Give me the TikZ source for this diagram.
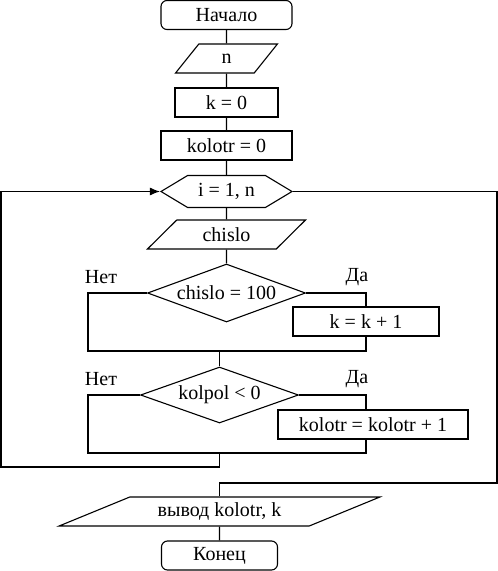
\documentclass[tikz,border=0pt]{standalone}
\usepackage{fontspec}
\setmainfont{Liberation Serif}
\usetikzlibrary{shapes.geometric,shapes.symbols,arrows.meta}

\begin{document}
\begin{tikzpicture}[>={Latex[length=10pt,width=8pt]},x=1pt,y=-1pt,line width=1.1pt,
    font=\fontsize{20}{24}\selectfont,
    term/.style={draw,rounded corners=6pt,minimum height=29pt,inner sep=0pt},
    proc/.style={draw,minimum height=29pt,inner sep=0pt},
    io/.style={draw,trapezium,trapezium stretches=true,minimum height=29pt,inner sep=0pt},
    cond/.style={draw,diamond,aspect=2.8,inner sep=0pt},
    loophex/.style={draw,signal,signal to=west and east,signal pointer angle=62,
      minimum height=32pt,inner sep=0pt}]
    \useasboundingbox (0,0) rectangle (498,571);
    % blocks
    \node[term,minimum width=131pt] (start) at (226.5,15) {Начало};
    \node[io,trapezium left angle=66,trapezium right angle=114,minimum width=102pt] (inn) at (226.5,58.5) {n};
    \node[proc,minimum width=103pt] (k0) at (226.5,102.5) {k = 0};
    \node[proc,minimum width=131pt] (kol0) at (226.5,145.5) {kolotr = 0};
    \node[loophex,minimum width=131pt] (loop) at (226.5,191.5) {i = 1, n};
    \node[io,trapezium left angle=45,trapezium right angle=135,minimum width=159pt] (inchis) at (226.5,234.5) {chislo};
    \node[cond,minimum width=158pt,minimum height=58pt] (if1) at (226.5,293) {chislo = 100};
    \node[proc,minimum width=146pt] (k1) at (366,321.5) {k = k + 1};
    \node[cond,minimum width=158pt,minimum height=56pt] (if2) at (219.5,395) {kolpol < 0};
    \node[proc,minimum width=190pt] (kol1) at (373,424.5) {kolotr = kolotr + 1};
    \node[io,trapezium left angle=20,trapezium right angle=160,minimum width=321pt] (out) at (219.5,511.5) {вывод kolotr, k};
    \node[term,minimum width=116pt] (stop) at (219.5,555.5) {Конец};
    % labels
    \node (no1) at (101,277) {Нет};
    \node (yes1) at (357,277) {Да};
    \node (no2) at (101,379) {Нет};
    \node (yes2) at (357,379) {Да};
    % turning points
    \coordinate (l1) at (88,351);
    \coordinate (j1) at (219.5,351);
    \coordinate (l2) at (88,453);
    \coordinate (j2) at (219.5,453);
    \coordinate (r2) at (366,453);
    \coordinate (back) at (1,467);
    \coordinate (exit) at (497,483);
    % connectors
    \draw (start) -- (inn) -- (k0) -- (kol0) -- (loop) -- (inchis) -- (if1);
    \draw (if1.west) -| (l1) -| (k1.south);
    \draw (if1.east) -| (k1.north);
    \draw (j1) -- (if2.north);
    \draw (if2.west) -| (l2) -- (r2) -- (r2 |- kol1.south);
    \draw (if2.east) -| (r2 |- kol1.north);
    \draw[->] (j2) |- (back) |- (loop.west);
    \draw (loop.east) -| (exit) -| (out.north);
    \draw (out) -- (stop);
\end{tikzpicture}
\end{document}
